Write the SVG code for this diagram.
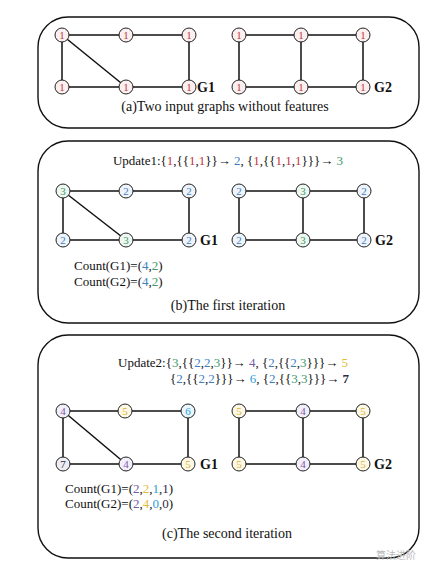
<svg xmlns="http://www.w3.org/2000/svg" width="441" height="572" viewBox="0 0 441 572">
<style>
text{font-family:"Liberation Serif","Times New Roman",serif;fill:#111}
.panel{fill:#fff;stroke:#111;stroke-width:1.4}
.e{stroke:#111;stroke-width:1.5;fill:none}
.n circle{stroke:#222;stroke-width:1}
.n text{font-size:11px;text-anchor:middle}
.gl{font-size:14px;font-weight:bold}
.cap{font-size:14px;text-anchor:middle}
.upd{font-size:13px}
.cnt{font-size:13px}
.c1 circle{fill:#fbeff0}.c1 text{fill:#c0393b}
.c2 circle{fill:#eef4fa}.c2 text{fill:#3f7fbf}
.c3 circle{fill:#eef7f1}.c3 text{fill:#3c9a6c}
.c4 circle{fill:#f3effa}.c4 text{fill:#7a5aa8}
.c5 circle{fill:#fdf8e6}.c5 text{fill:#d9b43a}
.c6 circle{fill:#e9f6fb}.c6 text{fill:#2aa0d8}
.c7 circle{fill:#eeeef2}.c7 text{fill:#2c2c4a}
.r{fill:#c0393b}.b{fill:#3f7fbf}.g{fill:#3c9a6c}.p{fill:#7a5aa8}.y{fill:#e0bc3a}.cy{fill:#2aa0d8}.d{fill:#2c2c4a}
</style>

<!-- panels -->
<rect class="panel" x="38" y="17" width="381" height="111" rx="30"/>
<rect class="panel" x="38" y="141" width="381" height="182" rx="30"/>
<rect class="panel" x="38" y="335" width="381" height="223" rx="30"/>

<g id="connectors">
<!-- (a) G1 -->
<line class="e" x1="62" y1="35" x2="126" y2="35"/>
<line class="e" x1="126" y1="35" x2="189" y2="35"/>
<line class="e" x1="62" y1="35" x2="62" y2="87"/>
<line class="e" x1="62" y1="35" x2="126" y2="87"/>
<line class="e" x1="62" y1="87" x2="126" y2="87"/>
<line class="e" x1="126" y1="87" x2="189" y2="87"/>
<line class="e" x1="189" y1="35" x2="189" y2="87"/>
<!-- (a) G2 -->
<line class="e" x1="239" y1="35" x2="301" y2="35"/>
<line class="e" x1="301" y1="35" x2="363" y2="35"/>
<line class="e" x1="239" y1="87" x2="301" y2="87"/>
<line class="e" x1="301" y1="87" x2="363" y2="87"/>
<line class="e" x1="239" y1="35" x2="239" y2="87"/>
<line class="e" x1="301" y1="35" x2="301" y2="87"/>
<line class="e" x1="363" y1="35" x2="363" y2="87"/>
<!-- (b) G1 -->
<line class="e" x1="63" y1="191" x2="126" y2="191"/>
<line class="e" x1="126" y1="191" x2="189" y2="191"/>
<line class="e" x1="63" y1="191" x2="63" y2="240"/>
<line class="e" x1="63" y1="191" x2="126" y2="240"/>
<line class="e" x1="63" y1="240" x2="126" y2="240"/>
<line class="e" x1="126" y1="240" x2="189" y2="240"/>
<line class="e" x1="189" y1="191" x2="189" y2="240"/>
<!-- (b) G2 -->
<line class="e" x1="239" y1="191" x2="303" y2="191"/>
<line class="e" x1="303" y1="191" x2="364" y2="191"/>
<line class="e" x1="239" y1="240" x2="303" y2="240"/>
<line class="e" x1="303" y1="240" x2="364" y2="240"/>
<line class="e" x1="239" y1="191" x2="239" y2="240"/>
<line class="e" x1="303" y1="191" x2="303" y2="240"/>
<line class="e" x1="364" y1="191" x2="364" y2="240"/>
<!-- (c) G1 -->
<line class="e" x1="63" y1="411" x2="125" y2="411"/>
<line class="e" x1="125" y1="411" x2="188" y2="411"/>
<line class="e" x1="63" y1="411" x2="63" y2="464"/>
<line class="e" x1="63" y1="411" x2="126" y2="464"/>
<line class="e" x1="63" y1="464" x2="126" y2="464"/>
<line class="e" x1="126" y1="464" x2="188" y2="464"/>
<line class="e" x1="188" y1="411" x2="188" y2="464"/>
<!-- (c) G2 -->
<line class="e" x1="239" y1="411" x2="303" y2="411"/>
<line class="e" x1="303" y1="411" x2="363" y2="411"/>
<line class="e" x1="239" y1="464" x2="303" y2="464"/>
<line class="e" x1="303" y1="464" x2="363" y2="464"/>
<line class="e" x1="239" y1="411" x2="239" y2="464"/>
<line class="e" x1="303" y1="411" x2="303" y2="464"/>
<line class="e" x1="363" y1="411" x2="363" y2="464"/>
</g>

<!-- (a) nodes -->
<g id="a-g1-n1" class="n c1" transform="translate(62,35)"><circle r="7"/><text y="4">1</text></g>
<g id="a-g1-n2" class="n c1" transform="translate(126,35)"><circle r="7"/><text y="4">1</text></g>
<g id="a-g1-n3" class="n c1" transform="translate(189,35)"><circle r="7"/><text y="4">1</text></g>
<g id="a-g1-n4" class="n c1" transform="translate(62,87)"><circle r="7"/><text y="4">1</text></g>
<g id="a-g1-n5" class="n c1" transform="translate(126,87)"><circle r="7"/><text y="4">1</text></g>
<g id="a-g1-n6" class="n c1" transform="translate(189,87)"><circle r="7"/><text y="4">1</text></g>
<g id="a-g2-n1" class="n c1" transform="translate(239,35)"><circle r="7"/><text y="4">1</text></g>
<g id="a-g2-n2" class="n c1" transform="translate(301,35)"><circle r="7"/><text y="4">1</text></g>
<g id="a-g2-n3" class="n c1" transform="translate(363,35)"><circle r="7"/><text y="4">1</text></g>
<g id="a-g2-n4" class="n c1" transform="translate(239,87)"><circle r="7"/><text y="4">1</text></g>
<g id="a-g2-n5" class="n c1" transform="translate(301,87)"><circle r="7"/><text y="4">1</text></g>
<g id="a-g2-n6" class="n c1" transform="translate(363,87)"><circle r="7"/><text y="4">1</text></g>
<text class="gl" x="197" y="92">G1</text>
<text class="gl" x="374" y="92">G2</text>
<text class="cap" x="225" y="111">(a)Two input graphs without features</text>

<!-- (b) -->
<text class="upd" x="228" y="165" text-anchor="middle">Update1:{<tspan class="r">1</tspan>,{{<tspan class="r">1</tspan>,<tspan class="r">1</tspan>}}→ <tspan class="b">2</tspan>, {<tspan class="r">1</tspan>,{{<tspan class="r">1</tspan>,<tspan class="r">1</tspan>,<tspan class="r">1</tspan>}}}→ <tspan class="g">3</tspan></text>
<g id="b-g1-n1" class="n c3" transform="translate(63,191)"><circle r="7"/><text y="4">3</text></g>
<g id="b-g1-n2" class="n c2" transform="translate(126,191)"><circle r="7"/><text y="4">2</text></g>
<g id="b-g1-n3" class="n c2" transform="translate(189,191)"><circle r="7"/><text y="4">2</text></g>
<g id="b-g1-n4" class="n c2" transform="translate(63,240)"><circle r="7"/><text y="4">2</text></g>
<g id="b-g1-n5" class="n c3" transform="translate(126,240)"><circle r="7"/><text y="4">3</text></g>
<g id="b-g1-n6" class="n c2" transform="translate(189,240)"><circle r="7"/><text y="4">2</text></g>
<g id="b-g2-n1" class="n c2" transform="translate(239,191)"><circle r="7"/><text y="4">2</text></g>
<g id="b-g2-n2" class="n c3" transform="translate(303,191)"><circle r="7"/><text y="4">3</text></g>
<g id="b-g2-n3" class="n c2" transform="translate(364,191)"><circle r="7"/><text y="4">2</text></g>
<g id="b-g2-n4" class="n c2" transform="translate(239,240)"><circle r="7"/><text y="4">2</text></g>
<g id="b-g2-n5" class="n c3" transform="translate(303,240)"><circle r="7"/><text y="4">3</text></g>
<g id="b-g2-n6" class="n c2" transform="translate(364,240)"><circle r="7"/><text y="4">2</text></g>
<text class="gl" x="200" y="245">G1</text>
<text class="gl" x="375" y="245">G2</text>
<text class="cnt" x="74" y="270">Count(G1)=(<tspan class="b">4</tspan>,<tspan class="g">2</tspan>)</text>
<text class="cnt" x="74" y="286">Count(G2)=(<tspan class="b">4</tspan>,<tspan class="g">2</tspan>)</text>
<text class="cap" x="228" y="310">(b)The first iteration</text>

<!-- (c) -->
<text class="upd" x="118" y="367">Update2:{<tspan class="g">3</tspan>,{{<tspan class="b">2</tspan>,<tspan class="b">2</tspan>,<tspan class="g">3</tspan>}}→ <tspan class="p">4</tspan>, {<tspan class="b">2</tspan>,{{<tspan class="b">2</tspan>,<tspan class="g">3</tspan>}}}→ <tspan class="y">5</tspan></text>
<text class="upd" x="170" y="383">{<tspan class="b">2</tspan>,{{<tspan class="b">2</tspan>,<tspan class="b">2</tspan>}}}→ <tspan class="cy">6</tspan>, {<tspan class="b">2</tspan>,{{<tspan class="g">3</tspan>,<tspan class="g">3</tspan>}}}→ <tspan class="d" font-weight="bold">7</tspan></text>
<g id="c-g1-n1" class="n c4" transform="translate(63,411)"><circle r="7"/><text y="4">4</text></g>
<g id="c-g1-n2" class="n c5" transform="translate(125,411)"><circle r="7"/><text y="4">5</text></g>
<g id="c-g1-n3" class="n c6" transform="translate(188,411)"><circle r="7"/><text y="4">6</text></g>
<g id="c-g1-n4" class="n c7" transform="translate(63,464)"><circle r="7"/><text y="4">7</text></g>
<g id="c-g1-n5" class="n c4" transform="translate(126,464)"><circle r="7"/><text y="4">4</text></g>
<g id="c-g1-n6" class="n c5" transform="translate(188,464)"><circle r="7"/><text y="4">5</text></g>
<g id="c-g2-n1" class="n c5" transform="translate(239,411)"><circle r="7"/><text y="4">5</text></g>
<g id="c-g2-n2" class="n c4" transform="translate(303,411)"><circle r="7"/><text y="4">4</text></g>
<g id="c-g2-n3" class="n c5" transform="translate(363,411)"><circle r="7"/><text y="4">5</text></g>
<g id="c-g2-n4" class="n c5" transform="translate(239,464)"><circle r="7"/><text y="4">5</text></g>
<g id="c-g2-n5" class="n c4" transform="translate(303,464)"><circle r="7"/><text y="4">4</text></g>
<g id="c-g2-n6" class="n c5" transform="translate(363,464)"><circle r="7"/><text y="4">5</text></g>
<text class="gl" x="200" y="469">G1</text>
<text class="gl" x="374" y="469">G2</text>
<text class="cnt" x="65" y="493">Count(G1)=(<tspan class="p">2</tspan>,<tspan class="y">2</tspan>,<tspan class="cy">1</tspan>,<tspan class="d">1</tspan>)</text>
<text class="cnt" x="65" y="508">Count(G2)=(<tspan class="p">2</tspan>,<tspan class="y">4</tspan>,<tspan class="cy">0</tspan>,<tspan class="d">0</tspan>)</text>
<text class="cap" x="227" y="538">(c)The second iteration</text>

<text x="376" y="559" style="font-family:'Noto Sans CJK SC',sans-serif;font-size:10px;fill:#bbb">算法进阶</text>
</svg>
